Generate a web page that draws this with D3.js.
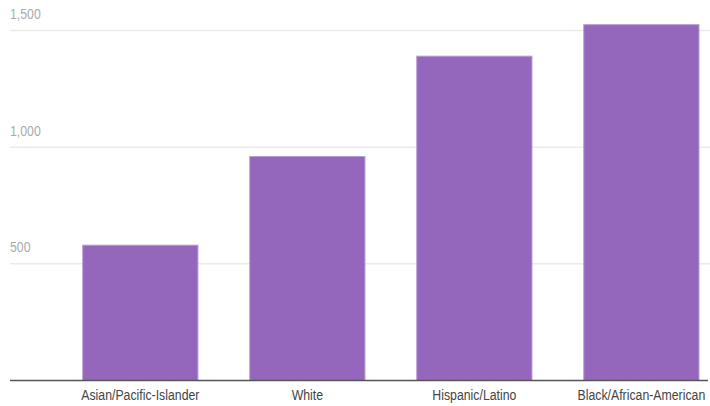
<!DOCTYPE html>
<html>
<head>
<meta charset="utf-8">
<script src="https://cdn.jsdelivr.net/npm/d3@7"></script>
<style>
  body { margin: 0; background: #fff; }
  .tick-label { font-family: "Liberation Sans", Arial, sans-serif; font-size: 15px; fill: #aaa; }
  .cat-label { font-family: "Liberation Sans", Arial, sans-serif; font-size: 15px; fill: #444; }
</style>
</head>
<body>
<svg id="chart" width="710" height="406"></svg>
<script>
var categories = ["Asian/Pacific-Islander", "White", "Hispanic/Latino", "Black/African-American"];
var values = [580, 960, 1390, 1525];
var yTicks = [500, 1000, 1500];

// the reference uses a condensed face; squeeze the regular one instead
var squeeze = 0.82;

var svg = d3.select("#chart");

var x = d3.scaleBand()
    .domain(categories)
    .range([82.7, 699])
    .paddingInner(0.31)
    .paddingOuter(0);

var y = d3.scaleLinear()
    .domain([0, 1500])
    .range([380.5, 30.5]);

// gridlines
svg.append("g").selectAll("line")
    .data(yTicks)
    .enter().append("line")
    .attr("x1", 10)
    .attr("x2", 710)
    .attr("y1", function (d) { return y(d); })
    .attr("y2", function (d) { return y(d); })
    .attr("stroke", "#ebebeb")
    .attr("stroke-width", 1.5);

// tick labels sit above the lines
svg.append("g").selectAll("text")
    .data(yTicks)
    .enter().append("text")
    .attr("class", "tick-label")
    .attr("transform", function (d) {
      return "translate(10," + (y(d) - 11.5) + ") scale(" + squeeze + ",1)";
    })
    .text(function (d) { return d3.format(",")(d); });

// bars
svg.append("g").selectAll("rect")
    .data(values)
    .enter().append("rect")
    .attr("x", function (d, i) { return x(categories[i]); })
    .attr("width", x.bandwidth())
    .attr("y", function (d) { return y(d); })
    .attr("height", function (d) { return y(0) - y(d); })
    .attr("fill", "#9467bd")
    .attr("stroke", "#b79dd6")
    .attr("stroke-width", 1);

// baseline
svg.append("line")
    .attr("x1", 10)
    .attr("x2", 708)
    .attr("y1", y(0))
    .attr("y2", y(0))
    .attr("stroke", "#555")
    .attr("stroke-width", 1.5);

// category labels
svg.append("g").selectAll("text")
    .data(categories)
    .enter().append("text")
    .attr("class", "cat-label")
    .attr("transform", function (d) {
      return "translate(" + (x(d) + x.bandwidth() / 2) + ",400) scale(" + squeeze + ",1)";
    })
    .attr("text-anchor", "middle")
    .text(function (d) { return d; });
</script>
</body>
</html>
